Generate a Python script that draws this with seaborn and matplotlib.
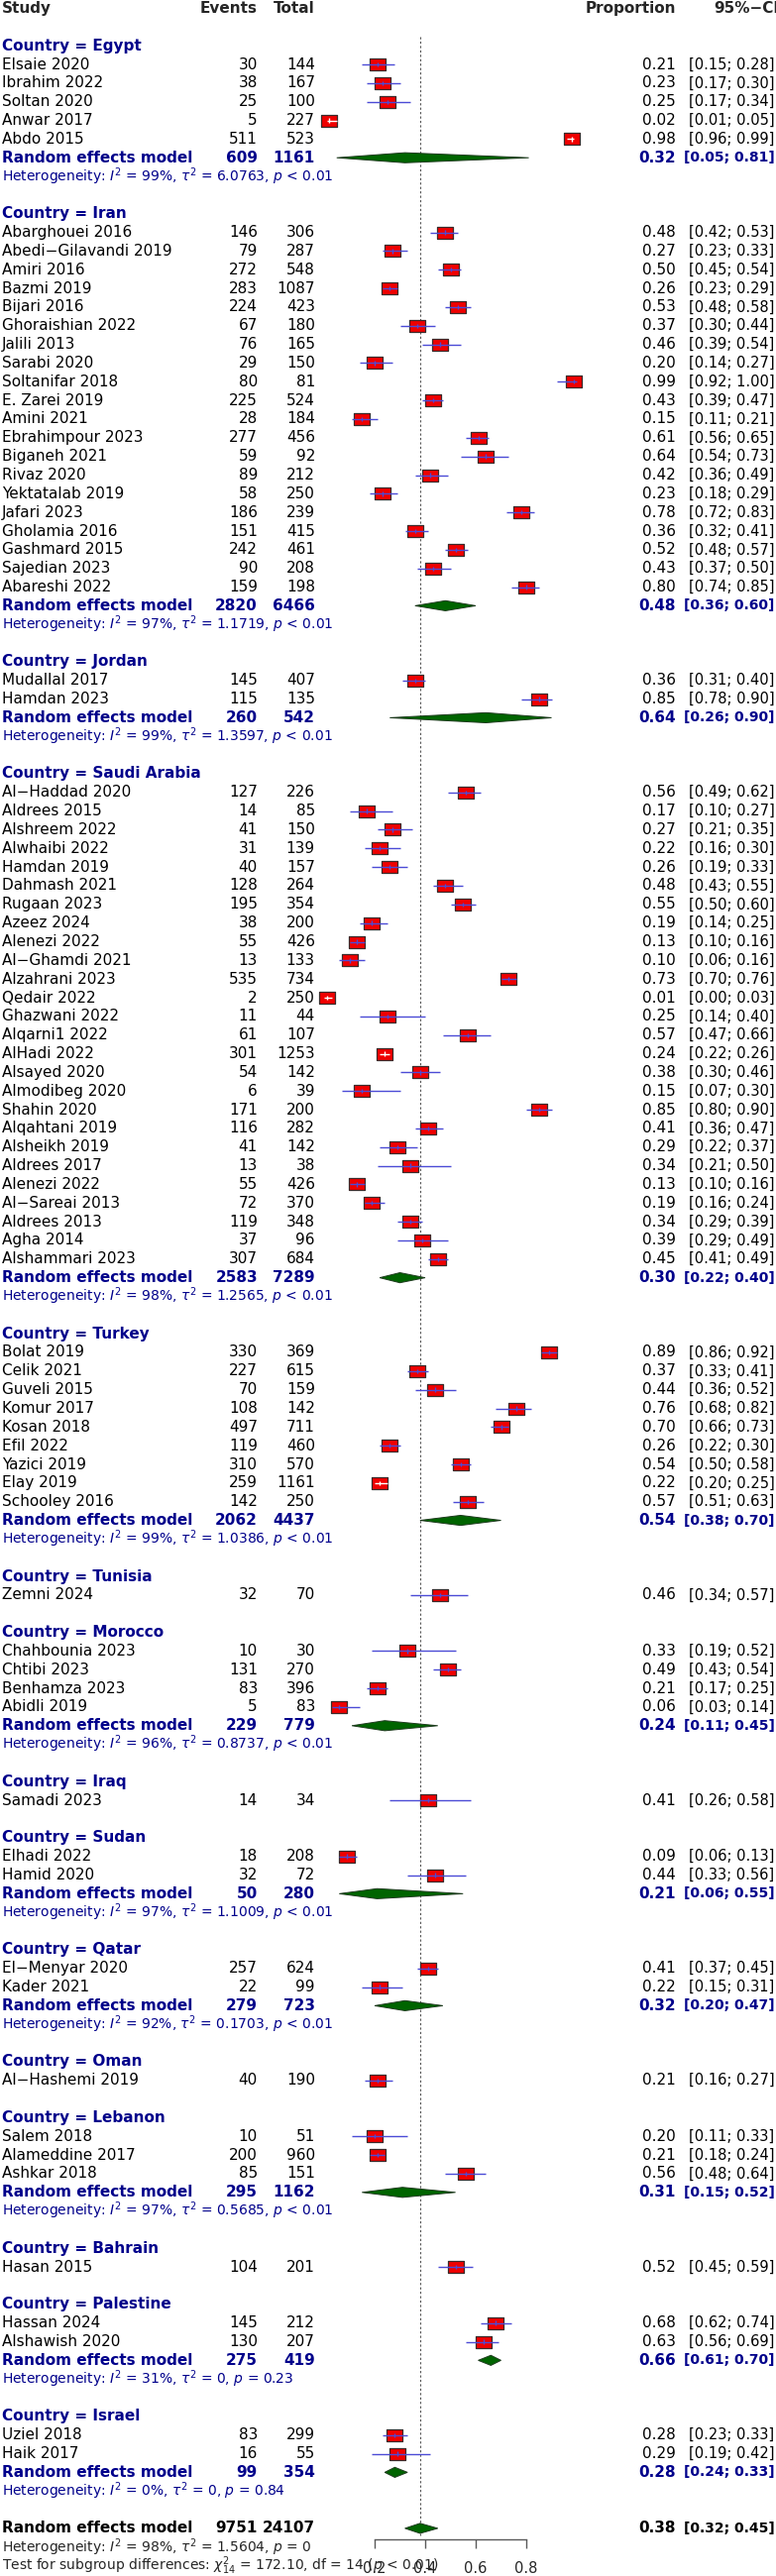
import numpy as np
import pandas as pd
import seaborn as sns
import matplotlib.pyplot as plt

# study level data
study = ['Elsaie 2020', 'Ibrahim 2022', 'Soltan 2020', 'Anwar 2017', 'Abdo 2015',
         'Abarghouei 2016', 'Abedi−Gilavandi 2019', 'Amiri 2016', 'Bazmi 2019', 'Bijari 2016',
         'Ghoraishian 2022', 'Jalili 2013', 'Sarabi 2020', 'Soltanifar 2018', 'E. Zarei 2019',
         'Amini 2021', 'Ebrahimpour 2023', 'Biganeh 2021', 'Rivaz 2020', 'Yektatalab 2019',
         'Jafari 2023', 'Gholamia 2016', 'Gashmard 2015', 'Sajedian 2023', 'Abareshi 2022',
         'Mudallal 2017', 'Hamdan 2023',
         'Al−Haddad 2020', 'Aldrees 2015', 'Alshreem 2022', 'Alwhaibi 2022', 'Hamdan 2019',
         'Dahmash 2021', 'Rugaan 2023', 'Azeez 2024', 'Alenezi 2022', 'Al−Ghamdi 2021',
         'Alzahrani 2023', 'Qedair 2022', 'Ghazwani 2022', 'Alqarni1 2022', 'AlHadi 2022',
         'Alsayed 2020', 'Almodibeg 2020', 'Shahin 2020', 'Alqahtani 2019', 'Alsheikh 2019',
         'Aldrees 2017', 'Alenezi 2022', 'Al−Sareai 2013', 'Aldrees 2013', 'Agha 2014',
         'Alshammari 2023',
         'Bolat 2019', 'Celik 2021', 'Guveli 2015', 'Komur 2017', 'Kosan 2018', 'Efil 2022',
         'Yazici 2019', 'Elay 2019', 'Schooley 2016',
         'Zemni 2024',
         'Chahbounia 2023', 'Chtibi 2023', 'Benhamza 2023', 'Abidli 2019',
         'Samadi 2023',
         'Elhadi 2022', 'Hamid 2020',
         'El−Menyar 2020', 'Kader 2021',
         'Al−Hashemi 2019',
         'Salem 2018', 'Alameddine 2017', 'Ashkar 2018',
         'Hasan 2015',
         'Hassan 2024', 'Alshawish 2020',
         'Uziel 2018', 'Haik 2017']
country = (['Egypt'] * 5 + ['Iran'] * 20 + ['Jordan'] * 2 + ['Saudi Arabia'] * 26 +
           ['Turkey'] * 9 + ['Tunisia'] + ['Morocco'] * 4 + ['Iraq'] + ['Sudan'] * 2 +
           ['Qatar'] * 2 + ['Oman'] + ['Lebanon'] * 3 + ['Bahrain'] + ['Palestine'] * 2 +
           ['Israel'] * 2)
events = [30, 38, 25, 5, 511,
          146, 79, 272, 283, 224, 67, 76, 29, 80, 225, 28, 277, 59, 89, 58, 186, 151, 242, 90, 159,
          145, 115,
          127, 14, 41, 31, 40, 128, 195, 38, 55, 13, 535, 2, 11, 61, 301, 54, 6, 171, 116, 41,
          13, 55, 72, 119, 37, 307,
          330, 227, 70, 108, 497, 119, 310, 259, 142,
          32,
          10, 131, 83, 5,
          14,
          18, 32,
          257, 22,
          40,
          10, 200, 85,
          104,
          145, 130,
          83, 16]
total = [144, 167, 100, 227, 523,
         306, 287, 548, 1087, 423, 180, 165, 150, 81, 524, 184, 456, 92, 212, 250, 239, 415, 461, 208, 198,
         407, 135,
         226, 85, 150, 139, 157, 264, 354, 200, 426, 133, 734, 250, 44, 107, 1253, 142, 39, 200, 282, 142,
         38, 426, 370, 348, 96, 684,
         369, 615, 159, 142, 711, 460, 570, 1161, 250,
         70,
         30, 270, 396, 83,
         34,
         208, 72,
         624, 99,
         190,
         51, 960, 151,
         201,
         212, 207,
         299, 55]
prop = [0.21, 0.23, 0.25, 0.02, 0.98,
        0.48, 0.27, 0.50, 0.26, 0.53, 0.37, 0.46, 0.20, 0.99, 0.43, 0.15, 0.61, 0.64, 0.42, 0.23,
        0.78, 0.36, 0.52, 0.43, 0.80,
        0.36, 0.85,
        0.56, 0.17, 0.27, 0.22, 0.26, 0.48, 0.55, 0.19, 0.13, 0.10, 0.73, 0.01, 0.25, 0.57, 0.24,
        0.38, 0.15, 0.85, 0.41, 0.29, 0.34, 0.13, 0.19, 0.34, 0.39, 0.45,
        0.89, 0.37, 0.44, 0.76, 0.70, 0.26, 0.54, 0.22, 0.57,
        0.46,
        0.33, 0.49, 0.21, 0.06,
        0.41,
        0.09, 0.44,
        0.41, 0.22,
        0.21,
        0.20, 0.21, 0.56,
        0.52,
        0.68, 0.63,
        0.28, 0.29]
ci_lo = [0.15, 0.17, 0.17, 0.01, 0.96,
         0.42, 0.23, 0.45, 0.23, 0.48, 0.30, 0.39, 0.14, 0.92, 0.39, 0.11, 0.56, 0.54, 0.36, 0.18,
         0.72, 0.32, 0.48, 0.37, 0.74,
         0.31, 0.78,
         0.49, 0.10, 0.21, 0.16, 0.19, 0.43, 0.50, 0.14, 0.10, 0.06, 0.70, 0.00, 0.14, 0.47, 0.22,
         0.30, 0.07, 0.80, 0.36, 0.22, 0.21, 0.10, 0.16, 0.29, 0.29, 0.41,
         0.86, 0.33, 0.36, 0.68, 0.66, 0.22, 0.50, 0.20, 0.51,
         0.34,
         0.19, 0.43, 0.17, 0.03,
         0.26,
         0.06, 0.33,
         0.37, 0.15,
         0.16,
         0.11, 0.18, 0.48,
         0.45,
         0.62, 0.56,
         0.23, 0.19]
ci_hi = [0.28, 0.30, 0.34, 0.05, 0.99,
         0.53, 0.33, 0.54, 0.29, 0.58, 0.44, 0.54, 0.27, 1.00, 0.47, 0.21, 0.65, 0.73, 0.49, 0.29,
         0.83, 0.41, 0.57, 0.50, 0.85,
         0.40, 0.90,
         0.62, 0.27, 0.35, 0.30, 0.33, 0.55, 0.60, 0.25, 0.16, 0.16, 0.76, 0.03, 0.40, 0.66, 0.26,
         0.46, 0.30, 0.90, 0.47, 0.37, 0.50, 0.16, 0.24, 0.39, 0.49, 0.49,
         0.92, 0.41, 0.52, 0.82, 0.73, 0.30, 0.58, 0.25, 0.63,
         0.57,
         0.52, 0.54, 0.25, 0.14,
         0.58,
         0.13, 0.56,
         0.45, 0.31,
         0.27,
         0.33, 0.24, 0.64,
         0.59,
         0.74, 0.69,
         0.33, 0.42]

# subgroup random effects summaries (None where only one study)
groups = ['Egypt', 'Iran', 'Jordan', 'Saudi Arabia', 'Turkey', 'Tunisia', 'Morocco', 'Iraq',
          'Sudan', 'Qatar', 'Oman', 'Lebanon', 'Bahrain', 'Palestine', 'Israel']
grp_events = [609, 2820, 260, 2583, 2062, None, 229, None, 50, 279, None, 295, None, 275, 99]
grp_total = [1161, 6466, 542, 7289, 4437, None, 779, None, 280, 723, None, 1162, None, 419, 354]
grp_est = [0.32, 0.48, 0.64, 0.30, 0.54, None, 0.24, None, 0.21, 0.32, None, 0.31, None, 0.66, 0.28]
grp_lo = [0.05, 0.36, 0.26, 0.22, 0.38, None, 0.11, None, 0.06, 0.20, None, 0.15, None, 0.61, 0.24]
grp_hi = [0.81, 0.60, 0.90, 0.40, 0.70, None, 0.45, None, 0.55, 0.47, None, 0.52, None, 0.70, 0.33]
grp_i2 = ['99%', '97%', '99%', '98%', '99%', None, '96%', None, '97%', '92%', None, '97%', None, '31%', '0%']
grp_tau2 = ['6.0763', '1.1719', '1.3597', '1.2565', '1.0386', None, '0.8737', None, '1.1009',
            '0.1703', None, '0.5685', None, '0', '0']
grp_p = ['< 0.01', '< 0.01', '< 0.01', '< 0.01', '< 0.01', None, '< 0.01', None, '< 0.01',
         '< 0.01', None, '< 0.01', None, '= 0.23', '= 0.84']

# overall model
all_events, all_total = 9751, 24107
all_est, all_lo, all_hi = 0.38, 0.32, 0.45
all_i2, all_tau2, all_p = '98%', '1.5604', '= 0'
test_chi2, test_df, test_p = '172.10', 14, '< 0.01'

ticks = [0.2, 0.4, 0.6, 0.8]

df = pd.DataFrame({'study': study, 'country': country, 'events': events, 'total': total,
                   'prop': prop, 'lo': ci_lo, 'hi': ci_hi})

sns.set_style('white')
plt.rcParams['font.family'] = ['DejaVu Sans']
plt.rcParams['mathtext.fontset'] = 'dejavusans'

NAVY = '#00008B'
FS = 11
FS_HET = 10

# row layout: one line per row, row 0 = header
df['row'] = 0.0
sum_rows = []
r = 2
label_rows = []
for gi, g in enumerate(groups):
    label_rows.append(r)
    for k in df.index[df.country == g]:
        r += 1
        df.loc[k, 'row'] = r
    if grp_est[gi] is not None:
        sum_rows.append((gi, r + 1, r + 2))
        r += 2
    r += 2
overall_row = r

fig = plt.figure(figsize=(7.83, 26.0), dpi=100)
ax = fig.add_axes([0, 0, 1, 1])
tr = ax.get_yaxis_transform()

# column anchors (axes fraction)
C_STUDY, C_EV, C_TOT, C_PROP, C_CI, C_CIH = 0.002, 0.332, 0.406, 0.871, 0.998, 0.9195


def row_text(y, name, ev, tot, est, lo, hi, color='black', weight='normal'):
    kw = dict(transform=tr, va='center', fontsize=FS, color=color, fontweight=weight)
    ax.text(C_STUDY, y, name, ha='left', **kw)
    ax.text(C_EV, y, str(ev), ha='right', **kw)
    ax.text(C_TOT, y, str(tot), ha='right', **kw)
    ax.text(C_PROP, y, f'{est:.2f}', ha='right', **kw)
    # bold digits are wider, so the bold CI is set a little smaller
    kw['fontsize'] = 10 if weight == 'bold' else 10.5
    ax.text(C_CI, y, f'[{lo:.2f}; {hi:.2f}]', ha='right', **kw)


def diamond(y, est, lo, hi):
    h = 0.27
    ax.fill([lo, est, hi, est], [y, y - h, y, y + h], facecolor='#006400',
            edgecolor='#1d3a1d', lw=0.7, zorder=3)


# header
hkw = dict(transform=tr, va='center', fontsize=FS, fontweight='bold')
ax.text(C_STUDY, 0, 'Study', ha='left', **hkw)
ax.text(C_EV, 0, 'Events', ha='right', **hkw)
ax.text(C_TOT, 0, 'Total', ha='right', **hkw)
ax.text(C_PROP, 0, 'Proportion', ha='right', **hkw)
ax.text(C_CIH, 0, '95%−CI', ha='left', **hkw)

for g, y in zip(groups, label_rows):
    ax.text(C_STUDY, y, f'Country = {g}', transform=tr, va='center', ha='left',
            fontsize=FS, fontweight='bold', color=NAVY)

for _, s in df.iterrows():
    row_text(s.row, s.study, s.events, s.total, s.prop, s.lo, s.hi)

for gi, y_re, y_het in sum_rows:
    row_text(y_re, 'Random effects model', grp_events[gi], grp_total[gi],
             grp_est[gi], grp_lo[gi], grp_hi[gi], color=NAVY, weight='bold')
    diamond(y_re, grp_est[gi], grp_lo[gi], grp_hi[gi])
    ax.text(C_STUDY, y_het,
            rf'Heterogeneity: $I^2$ = {grp_i2[gi]}, $\tau^2$ = {grp_tau2[gi]}, $p$ {grp_p[gi]}',
            transform=tr, va='center', ha='left', fontsize=FS_HET, color=NAVY)

# overall
row_text(overall_row, 'Random effects model', all_events, all_total, all_est, all_lo, all_hi,
         weight='bold')
diamond(overall_row, all_est, all_lo, all_hi)
ax.text(C_STUDY, overall_row + 1,
        rf'Heterogeneity: $I^2$ = {all_i2}, $\tau^2$ = {all_tau2}, $p$ {all_p}',
        transform=tr, va='center', ha='left', fontsize=FS_HET)
ax.text(C_STUDY, overall_row + 2,
        rf'Test for subgroup differences: $\chi^2_{{{test_df}}}$ = {test_chi2}, df = {test_df} ($p$ {test_p})',
        transform=tr, va='center', ha='left', fontsize=FS_HET)

# squares, then the CI lines on top of them
box = np.array([[-1, -0.72], [1, -0.72], [1, 0.72], [-1, 0.72], [-1, -0.72]])
sns.scatterplot(data=df, x='prop', y='row', marker=box, s=133, color='#f00000',
                edgecolor='#3b2b2b', linewidth=0.9, ax=ax, zorder=3, legend=False)
line_col = np.where(df.hi - df.lo < 0.058, 'white', '#4b4bd6')
ax.hlines(df.row, df.lo, df.hi, colors=line_col, lw=1.0, zorder=4)
ax.scatter(df.prop, df.row, marker='|', s=10, c=line_col, linewidths=1.0, zorder=5)

# reference line at the overall estimate
ax.vlines(all_est, 1.5, overall_row + 0.4, colors='#555555', lw=0.8,
          linestyles=(0, (2, 2)), zorder=1)

# limits: 0 -> 327 px, 1 -> 582 px; row i -> 8.5 + 18.84 i px
ax.set_xlim(-327 / 255, (783 - 327) / 255)
ax.set_ylim((2600 - 8.5) / 18.84, -8.5 / 18.84)
ax.set_xlabel('')
ax.set_ylabel('')

for side in ['top', 'left', 'right']:
    ax.spines[side].set_visible(False)
ax.spines['bottom'].set_position(('data', (2563 - 8.5) / 18.84))
ax.spines['bottom'].set_bounds(ticks[0], ticks[-1])
ax.spines['bottom'].set_color('#5a5a5a')
ax.spines['bottom'].set_linewidth(1.0)
ax.set_yticks([])
ax.set_xticks(ticks)
ax.set_xticklabels([f'{t:.1f}' for t in ticks])
ax.tick_params(axis='x', direction='out', length=6.5, width=1.0, color='#5a5a5a',
               pad=9, labelsize=10.5, bottom=True)

plt.savefig('out.png', dpi=100)
